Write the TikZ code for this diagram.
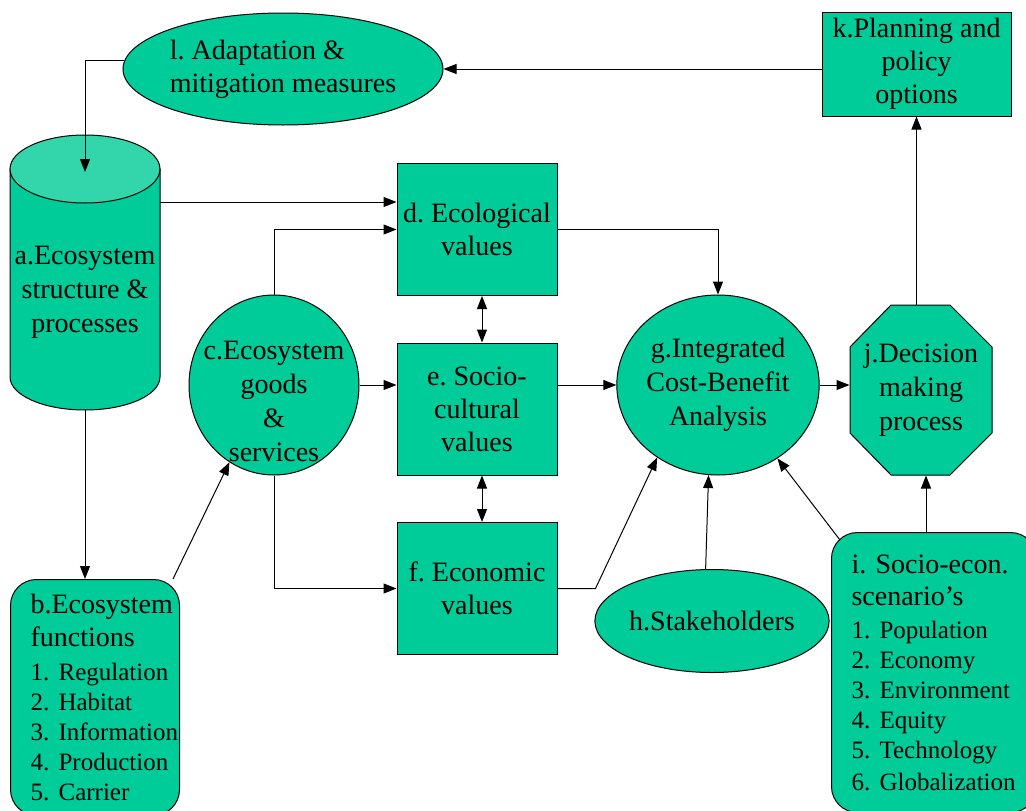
\documentclass[tikz,border=0pt]{standalone}
\usepackage{fontspec}
\setmainfont{Liberation Serif}
\usetikzlibrary{shapes.geometric,arrows.meta}
\definecolor{eco}{RGB}{0,204,153}
\definecolor{ecotop}{RGB}{51,214,170}
\tikzset{
  valbox/.style={rectangle, draw, fill=eco, minimum width=160pt, minimum height=132pt, align=center},
  oval/.style={ellipse, draw, fill=eco, align=center, inner sep=0pt},
  listbox/.style={rectangle, rounded corners=26pt, draw, fill=eco, align=left, anchor=north west},
  arr/.style={-{Triangle[width=10pt,length=13pt]}},
  dblarr/.style={{Triangle[width=10pt,length=13pt]}-{Triangle[width=10pt,length=13pt]}},
}
\newcommand{\listfont}{\fontsize{25}{30}\selectfont}
\frenchspacing
\hyphenpenalty=10000
\begin{document}
\begin{tikzpicture}[x=1pt, y=-1pt, line width=1pt, font=\fontsize{28}{33}\selectfont]
\useasboundingbox (0,0) rectangle (1026,811);
\clip (0,0) rectangle (1026,811);
% cylinder a
\filldraw[fill=eco] (10,169) -- (10,377) arc[start angle=180, end angle=360, x radius=75pt, y radius=33pt] -- (160,169) -- cycle;
\filldraw[fill=ecotop] (85,169) ellipse [x radius=75pt, y radius=34pt];
\node[align=center, font=\fontsize{28}{34}\selectfont] (a) at (85,292) {a.Ecosystem\\structure \&\\processes};
\coordinate (atop) at (85,172);
\coordinate (aeast) at (160,202);
\coordinate (abot) at (85,409);
% octagon j
\filldraw[fill=eco] (850,347) -- (891,305) -- (950,305) -- (992,347) -- (992,433) -- (950,475) -- (891,475) -- (850,433) -- cycle;
% top row
\node[oval, minimum width=320pt, minimum height=112pt, align=left] (l) at (283,69) {l. Adaptation \&\\mitigation measures};
\node[rectangle, draw, fill=eco, minimum width=189pt, minimum height=104pt, align=center] (k) at (916.5,64) {k.Planning and\\policy\\options};
% values
\node[valbox] (d) at (477,229.5) {d. Ecological\\values};
\node[valbox] (e) at (477,409) {e. Socio-\\cultural\\values};
\node[valbox] (f) at (477,588.5) {f. Economic\\values};
\node[oval, minimum width=170pt, minimum height=180pt,
  label={[align=center, yshift=-16pt, font=\fontsize{28}{34}\selectfont]center:c.Ecosystem\\goods\\\&\\services}] (c) at (274,385) {};
\node[oval, minimum width=170pt, minimum height=180pt, font=\fontsize{28}{34}\selectfont] (g) at (718,385) {g.Integrated\\Cost-Benefit\\Analysis};
\node[minimum width=142pt, minimum height=170pt, align=center, font=\fontsize{28}{34}\selectfont] (j) at (921,390) {j.Decision\\making\\process};
\node[oval, minimum width=199pt, minimum height=103pt] (h) at (712,621) {h.Stakeholders};
% lists
\node[listbox, minimum width=169pt, minimum height=236pt, text width=164pt, inner xsep=2.5pt] (b) at (10,579)
  {\leftskip=17.5pt b.Ecosystem\\functions\\[4pt]\listfont 1.~Regulation\\2.~Habitat\\3.~Information\\4.~Production\\5.~Carrier\par};
\node[listbox, minimum width=205pt, minimum height=280pt, text width=165pt, inner xsep=20pt, font=\fontsize{28}{32}\selectfont] (i) at (831,532)
  {i. Socio-econ.\\scenario’s\\[3pt]\listfont 1.~Population\\2.~Economy\\3.~Environment\\4.~Equity\\5.~Technology\\6.~Globalization};
% connectors
\draw[arr] (l.177) -| (atop);
\draw[arr] (k.west |- l.east) -- (l.east);
\draw[arr] (aeast) -- (aeast -| d.west);
\draw[arr] (c.north) |- (d.west);
\draw[dblarr] ([xshift=5pt]d.south) -- ([xshift=5pt]e.north);
\draw[dblarr] ([xshift=5pt]e.south) -- ([xshift=5pt]f.north);
\draw[arr] (c.east) -- (c.east -| e.west);
\draw[arr] (c.south) |- (f.west);
\draw[arr] (d.east) -| (g.north);
\draw[arr] (e.east |- g.west) -- (g.west);
\draw[arr] (f.east) -- ++(38,0) -- (g.230);
\draw[arr] (h.97) -- (g.264);
\draw[arr] ([xshift=9pt,yshift=-8pt]i.north west) -- (g.309);
\draw[arr] (g.east) -- (g.east -| j.west);
\draw[arr] ([xshift=5pt]j.south |- i.north) -- ([xshift=5pt]j.south);
\draw[arr] (j.north -| k.south) -- (k.south);
\draw[arr] (abot) -- (abot |- b.north);
\draw[arr] ([xshift=-7pt]b.north east) -- (c.240);
\end{tikzpicture}
\end{document}
